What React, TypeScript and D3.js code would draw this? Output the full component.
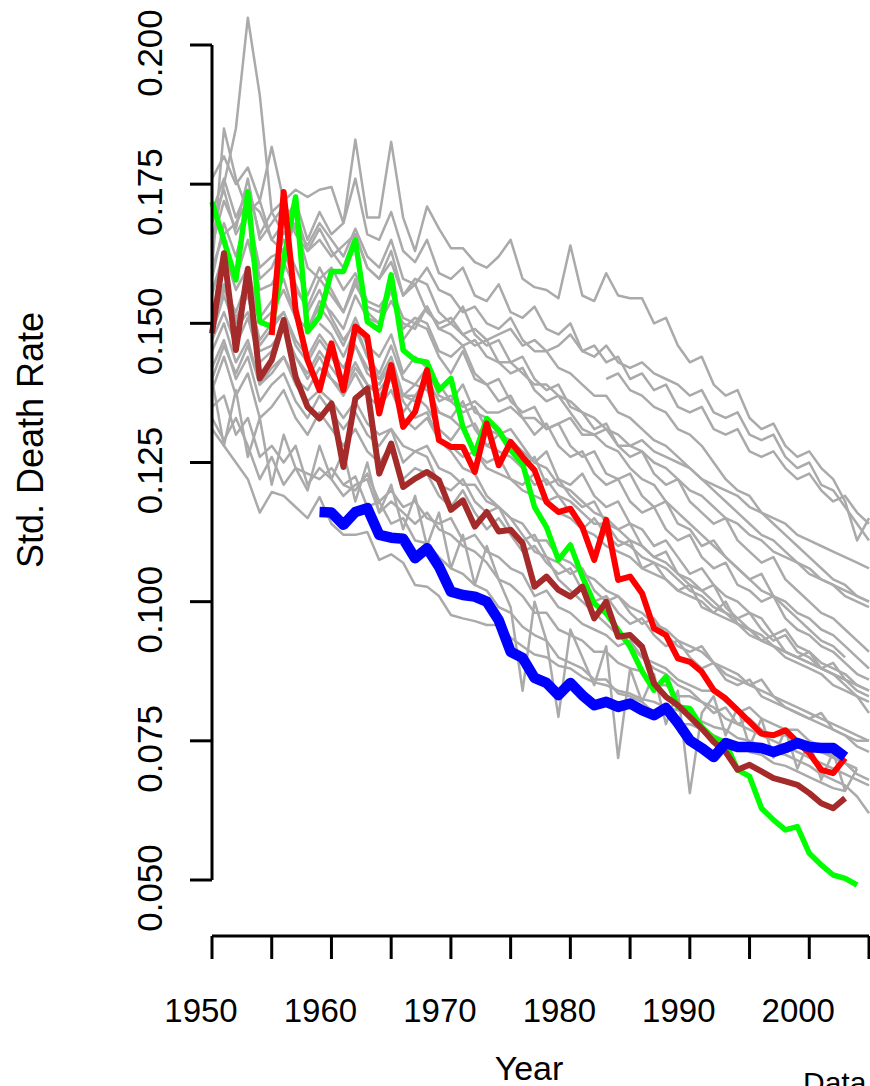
import React from 'react';
import * as d3 from 'd3';

// ---------- data ----------
const yTicks = [0.05, 0.075, 0.1, 0.125, 0.15, 0.175, 0.2];
const xTicks = [1950, 1955, 1960, 1965, 1970, 1975, 1980, 1985, 1990, 1995, 2000, 2005];
const xLabels = [1950, 1960, 1970, 1980, 1990, 2000];

const greenStart = 1950;
const greenVals = [
  0.1718, 0.1649, 0.1578, 0.1736, 0.1503, 0.1494, 0.1614, 0.1727, 0.1485, 0.1512,
  0.1593, 0.1593, 0.1649, 0.1503, 0.1488, 0.1587, 0.1452, 0.1434, 0.1430, 0.1380,
  0.1401, 0.1314, 0.1266, 0.1329, 0.1308, 0.1272, 0.1248, 0.1170, 0.1134, 0.1075,
  0.1102, 0.1045, 0.0997, 0.0979, 0.0949, 0.0919, 0.0875, 0.0841, 0.0865, 0.0811,
  0.0808, 0.0775, 0.0755, 0.0746, 0.0698, 0.0686, 0.0629, 0.0608, 0.0590, 0.0596,
  0.0548, 0.0527, 0.0509, 0.0503, 0.0491,
];
const redStart = 1955;
const redVals = [
  0.1479, 0.1736, 0.1524, 0.1434, 0.1380, 0.1464, 0.1380, 0.1494, 0.1476, 0.1338,
  0.1425, 0.1314, 0.1341, 0.1416, 0.1290, 0.1278, 0.1278, 0.1233, 0.1320, 0.1245,
  0.1287, 0.1260, 0.1236, 0.1179, 0.1161, 0.1167, 0.1134, 0.1075, 0.1147, 0.1039,
  0.1045, 0.1015, 0.0952, 0.0940, 0.0898, 0.0892, 0.0874, 0.0841, 0.0826, 0.0805,
  0.0784, 0.0763, 0.0760, 0.0769, 0.0748, 0.0728, 0.0698, 0.0692, 0.0719,
];
const brownStart = 1950;
const brownVals = [
  0.1482, 0.1626, 0.1452, 0.1598, 0.1401, 0.1434, 0.1506, 0.1404, 0.1350, 0.1329,
  0.1356, 0.1242, 0.1365, 0.1383, 0.1230, 0.1284, 0.1206, 0.1221, 0.1233, 0.1218,
  0.1165, 0.1182, 0.1135, 0.1161, 0.1126, 0.1129, 0.1105, 0.1027, 0.1045, 0.1021,
  0.1009, 0.1027, 0.0970, 0.1000, 0.0937, 0.0940, 0.0919, 0.0853, 0.0829, 0.0814,
  0.0793, 0.0772, 0.0748, 0.0730, 0.0698, 0.0707, 0.0695, 0.0683, 0.0677, 0.0671,
  0.0656, 0.0638, 0.0629, 0.0647,
];
const blueStart = 1959;
const blueVals = [
  0.1161, 0.1160, 0.1138, 0.1161, 0.1168, 0.1120, 0.1115, 0.1113, 0.1078, 0.1096,
  0.1063, 0.1018, 0.1012, 0.1009, 0.1000, 0.0967, 0.0910, 0.0899, 0.0863, 0.0854,
  0.0832, 0.0854, 0.0832, 0.0814, 0.0820, 0.0811, 0.0817, 0.0805, 0.0796, 0.0809,
  0.0782, 0.0751, 0.0737, 0.0721, 0.0746, 0.0739, 0.0739, 0.0737, 0.0730, 0.0737,
  0.0746, 0.0739, 0.0737, 0.0737, 0.0721,
];

// gray series, values x 1000
const g01 = [165,175,185,204.9,191,170,166,170,163,165,162,164,166,160,158,161,155,157,152,150,151,148,146,147,143,141,142,138,136,137,134,131,130,128,127,124,122,121,118,116,114,112,110,108,106,104,102,101,99,97,95,93,92,90];
const g02 = [160,185,176,170,172,165,163,168,160,158,160,156,159,154,153,156,149,151,150,145,144,146,141,139,140,136,134,135,131,132,128,126,127,123,122,123,119,117,118,114,113,110,111,108,106,104,105,101,100,98,97,95,94,92,90,88];
const g03 = [160,166,168,172,170,165,168,172,165,170,166,168,183,169,169,182.6,169,163,171,167,163.5,163.5,161,160,162,165,158,156.5,156,154.5,164,155,154,159,155,154.5,154.5,150,151,146,143,144,139,137,138,133,131,132,128,126,127,124,122,118,111,115];
const g04 = [176,180,175,178,172,181.7,172,174,172.7,174,174.5,168,176,166,165,170,163,161,165,159,158,160,155,154,157,152,151,153,149,148,150,145,146,143,144,140,141,138,139,135,134,135,131,130,131,127,126,127,124,122,123,120,118,119,116,114];
const g05 = [164,172,167,176,165,168,171,166,163,167,163,160,166,160,158,163,155,158,157,152,150,153,148,146,147,143,144,140,138,139,135,134,131,132,128,126,127,123,121,122,118,116,114,115,111,109,107,108,104,102,100,98,97,95,93,91];
const g06 = [170,176,169,174,166,170,172,167,164,168,165,162,167,162,160,165,158,157,160,156,155,152,153,150,149,151,147,145,145,142,141,139,137,137,134,133,131,129,128,126,124,122,120,118,116,114,112,111,109,107,106,104,103,101,100,99];
const g07 = [158,168,162,170,158,160,165,160,155,160,156,152,158,152,150,156,147,150,149,144,141,145,140,139,136,137,133,130,132,128,126,127,123,121,122,118,116,117,113,111,112,108,106,107,103,102,100,101,97,95,94,92,91,89,87,86];
const g08 = [156,162,158,165,156,157,161,156,153,158,155,152,157,153,152,156,151,150,153,149,148,146,147,144,143,143,141,139,139,137,136,134,133,131,130,128,127,125,124,122,120,119,117,115,114,112,111,109,108,107,105,104,103,102,101,100];
const g09 = [155,163,156,160,151,154,158,151,149,153,150,146,151,146,144,148,141,144,142,139,136,139,134,133,130,131,128,125,127,122,121,123,119,117,118,114,113,110,111,108,105,106,103,101,100,98,97,94,95,92,91,89,88,87,85,84];
const g10 = [152,160,150,156,147,150,152,146,143,147,144,140,146,141,139,143,137,136,139,134,133,131,132,128,127,126,124,121,122,119,118,116,114,114,111,110,108,107,106,104,102,101,99,98,96,95,93,92,90,89,88,87,85,84,83,82];
const g11 = [150,156,152,158,150,152,156,151,149,154,152,149,155,151,150,154,150,149,153,149,150,148,149,147,148,149,146,147,145,146,148,145,144,146,143,142,143,141,140,139,137,138,134,133,134,130,129,130,126,124,125,121,120,117,114,111];
const g12 = [150,157,151,155,146,149,152,147,144,148,145,142,146,142,140,144,137,139,138,134,133,136,131,128,130,127,124,126,121,122,119,117,118,114,113,114,110,108,109,105,104,102,103,99,97,98,95,93,94,91,90,88,89,86,84,83];
const g13 = [148,155,149,152,145,146,149,144,141,145,142,139,143,139,137,140,134,137,135,131,129,132,127,125,126,122,121,123,118,119,116,113,115,112,110,111,106,107,104,102,103,99,98,100,96,95,93,94,91,90,91,88,87,85,83,80];
const g14 = [147,152,146,151,143,145,149,144,140,144,140,137,141,137,135,138,133,131,133,129,128,126,127,124,123,122,120,119,118,116,115,113,112,110,109,108,106,105,104,102,101,100,98,97,96,94,93,92,91,90,89,88,87,86,85,84];
const g15 = [145,150,143,147,139,141,144,139,136,138,136,133,136,132,130,131,128,127,128,124,123,121,121,118,117,115,114,111,111,108,107,105,104,102,101,99,98,96,95,93,92,91,89,88,87,85,84,83,82,81,80,79,78,77,76,75];
const g16 = [140,146,141,146,139,142,144,140,138,142,140,138,142,139,138,141,137,137,140,136,137,135,136,134,134,135,133,133,131,132,133,130,130,131,128,128,129,127,126,125,124,122,121,120,119,117,116,115,114,112,111,110,109,108,107,106];
const g17 = [138,144,137,141,133,135,138,133,130,134,131,128,131,127,125,128,122,124,123,119,117,120,116,113,115,112,109,110,107,105,106,102,100,101,98,96,97,94,92,93,90,88,89,86,85,86,83,82,81,80,79,80,77,76,75,75];
const g18 = [142,147,140,144,136,139,141,136,133,137,134,131,134,130,128,131,125,127,126,121,120,122,118,116,117,113,111,112,108,107,105,106,102,100,101,98,96,97,94,92,91,92,89,87,86,85,86,83,81,80,79,78,77,76,74,73];
const g19 = [168,174,166,170,160,162,163,157,152,156,151,147,150,144,140,142,136,133,134,129,127,124,123,119,117,115,112,109,108,104,102,100,98,96,94,92,90,88,87,85,84,82,81,79,78,77,76,75,74,73,72,71,70,69,68,67];
const g20 = [150,148,144,149,144,141,146,140,139,142,137,136,134,135,131,130,129,127,125,124,121,120,118,116,115,113,111,110,108,107,105,103,102,100,98,97,95,94,92,91,90,89,88,87,86];
const g21 = [140,141,138,137,135,134,131,130,128,125,122,120,119,116,114,112,110,108,106,104,103,101,100];
const g22 = [131,128,125,122,116,119.7,119,117,115,118.8,114,112,112,112.5,107.5,108.5,107,103,102.7,101,97.6,97,96.5,95.8,95.8,93.5,92,90.5,90,88.5,88,86.5,85.5,85,84,83.5,82.5,82,81,80.5,79.5,78.5,77.5,77,75.5,75,74,73,72.5,71.5,70.5,69,68,67,65,62];
const g23 = [140,128,138,126,133,121,130,124,120,128,122,127,118,125,116,121,113,119,110,116,106,112,103,110,104,99,84,100,93,79.3,95,90,85,92,71.9,88,82,87,78,84,65.6,80,83,76,81,74,79,72,77,70,75,68,73,66,70];
const g24 = [135,137,130,133,126,128,125,128,121,124,122,119,121,122,116,118,116,114,116,113,112,110,109,107,104,103,101,98,98,95,94,93,91,91,89,88,87.5,85,85,83,83,82,80,81,78,79,77,76,76,75,74,73,72,71,69,68];
const g25 = [133,129,133,128,122,126,121,124,123,122,124,121,120,123,118,120,117,118,115,114,115,111,112,109,108,106,105,101,102,99,98,96,95,94,92,93,90,89,88,86,85,84,84,82,80,81,79,78,77,77,75,74,72,71,70];
const g26 = [121,122.5,117,118,114,115,111,110.5,108,106,105,103,102,99,98,95.5,94,93,90,89,88,86,86,83.5,83,82,80,80.5,78,78,77,76,75,74.5,73,72.5,71,70.5,69.5,68.5,67.5,66.5,66];

const grayStarts = [1950,1950,1950,1950,1950,1950,1950,1950,1950,1950,1950,1950,1950,1950,1950,1950,1950,1950,1950,1959,1983,1950,1950,1950,1950,1961];
const grayList = [g01,g02,g03,g04,g05,g06,g07,g08,g09,g10,g11,g12,g13,g14,g15,g16,g17,g18,g19,g20,g21,g22,g23,g24,g25,g26];

const FONT = '"Liberation Sans", Arial, Helvetica, sans-serif';

export default function App() {
  const x = d3.scaleLinear().domain([1950, 2005]).range([212, 869]);
  const y = d3.scaleLinear().domain([0.05, 0.2]).range([880, 45]);
  const line = d3.line<[number, number]>().x(d => x(d[0])).y(d => y(d[1]));
  const pts = (start: number, vals: number[], k = 1) =>
    vals.map((v, i) => [start + i, v * k] as [number, number]);
  const fmt = d3.format('.3f');

  const colored = [
    { s: greenStart, v: greenVals, c: '#00ff00', w: 5.5 },
    { s: redStart, v: redVals, c: '#ff0000', w: 6 },
    { s: brownStart, v: brownVals, c: '#a52a2a', w: 6 },
    { s: blueStart, v: blueVals, c: '#0000ff', w: 10.5 },
  ];

  return (
    <svg width={870} height={1086} style={{ position: 'absolute', left: 0, top: 0, background: '#fff' }}
      fontFamily={FONT}>
      <rect x={0} y={0} width={870} height={1086} fill="#fff" />
      <g fill="none" strokeLinejoin="round">
        {grayList.map((g, i) => (
          <path key={i} d={line(pts(grayStarts[i], g, 0.001)) || ''} stroke="#aaaaaa" strokeWidth={2.5} />
        ))}
        {colored.map((c, i) => (
          <path key={'c' + i} d={line(pts(c.s, c.v)) || ''} stroke={c.c} strokeWidth={c.w} strokeLinecap="butt" />
        ))}
      </g>
      {/* y axis */}
      <g stroke="#000" strokeWidth={3}>
        <line x1={212} x2={212} y1={y(0.2)} y2={y(0.05)} />
        {yTicks.map(t => <line key={t} x1={190} x2={212} y1={y(t)} y2={y(t)} />)}
      </g>
      {yTicks.map(t => (
        <text key={'yl' + t} transform={`translate(162,${y(t) + 8}) rotate(-90)`} textAnchor="middle"
          fontSize={35} fill="#000">{fmt(t)}</text>
      ))}
      {/* x axis */}
      <g stroke="#000" strokeWidth={3}>
        <line x1={x(1950)} x2={x(2005)} y1={936} y2={936} />
        {xTicks.map(t => <line key={t} x1={x(t)} x2={x(t)} y1={936} y2={959} />)}
      </g>
      {xLabels.map(t => (
        <text key={'xl' + t} x={x(t) - 11} y={1022} textAnchor="middle" fontSize={33} fill="#000">{t}</text>
      ))}
      <text x={529} y={1080} textAnchor="middle" fontSize={34} fill="#000">Year</text>
      <text transform="translate(43,440) rotate(-90)" textAnchor="middle" fontSize={36} fill="#000">Std. Death Rate</text>
      <text x={803} y={1093} fontSize={30} fill="#000">Data</text>
    </svg>
  );
}
